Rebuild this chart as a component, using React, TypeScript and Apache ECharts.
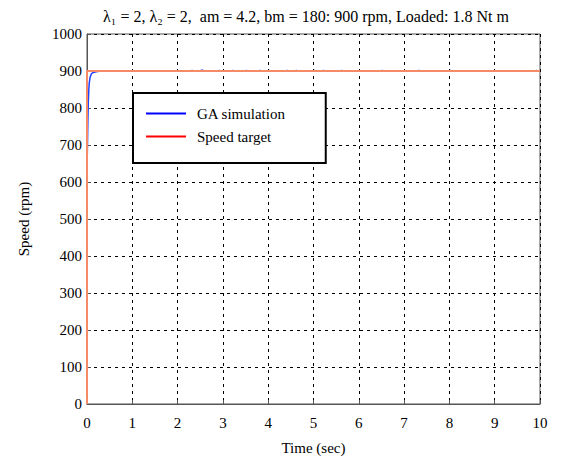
import React, { useEffect, useRef } from "react";
import * as echarts from "echarts";

const xTicks = [0, 1, 2, 3, 4, 5, 6, 7, 8, 9, 10];
const gaSimulation: [number, number][] = [
  [0, 630], [0.01, 700], [0.02, 770], [0.03, 820], [0.04, 850], [0.05, 868],
  [0.07, 884], [0.1, 893], [0.14, 896], [0.2, 898], [0.3, 900],
  [1.98, 900], [2.0, 901.5], [2.02, 900], [2.3, 900], [2.32, 901.5], [2.34, 900],
  [2.5, 900], [2.52, 902], [2.56, 902], [2.58, 900], [2.9, 900], [2.92, 901.5], [2.94, 900],
  [3.2, 900], [3.22, 901.5], [3.24, 900], [3.5, 900], [3.52, 901.5], [3.54, 900],
  [3.8, 900], [3.82, 901.5], [3.86, 900], [4.0, 900], [4.02, 901.5], [4.04, 900],
  [4.4, 900], [4.42, 901.5], [4.46, 900], [4.6, 900], [4.62, 901.5], [4.64, 900],
  [5.0, 900], [5.02, 901.5], [5.04, 900], [5.2, 900], [5.22, 901.5], [5.26, 900],
  [5.6, 900], [5.62, 901.5], [5.64, 900], [6.5, 900], [6.52, 901.5], [6.56, 900],
  [7.3, 900], [7.32, 901.5], [7.38, 900], [8.0, 900], [8.02, 901.5], [8.04, 900],
  [9.9, 900], [9.92, 901.5], [9.94, 900], [10, 900],
];
const speedTarget: [number, number][] = [[0, 0], [0, 900], [10, 900]];
const titleText = "λ\u2081 = 2, λ\u2082 = 2,  am = 4.2, bm = 180: 900 rpm, Loaded: 1.8 Nt m";

export default function App() {
  const ref = useRef<HTMLDivElement>(null);
  useEffect(() => {
    const chart = echarts.init(ref.current!, undefined, { renderer: "svg" });
    const font = "'Liberation Serif', 'Times New Roman', serif";
    chart.setOption({
      animation: false,
      textStyle: { fontFamily: font },
      title: {
        text: titleText,
        left: 301,
        top: 3,
        textAlign: "center",
        textStyle: { fontFamily: font, fontSize: 16, fontWeight: "normal", color: "#000" },
      },
      grid: {
        left: 87, right: 29, top: 34, bottom: 64,
        show: true, borderColor: "#555", borderWidth: 1, backgroundColor: "#fff",
      },
      legend: {
        orient: "vertical",
        left: 133, top: 93,
        padding: [13, 40, 19, 13],
        itemGap: 8,
        itemWidth: 40,
        itemHeight: 2,
        icon: "rect",
        borderColor: "#000",
        borderWidth: 2,
        backgroundColor: "#fff",
        textStyle: { fontFamily: font, fontSize: 15, color: "#000", padding: [0, 0, 0, 6] },
        data: ["GA simulation", "Speed target"],
      },
      xAxis: {
        type: "value",
        min: 0, max: 10, interval: 1,
        name: "Time (sec)",
        nameLocation: "middle",
        nameGap: 36,
        nameTextStyle: { fontFamily: font, fontSize: 15, color: "#000" },
        axisLine: { show: true, lineStyle: { color: "#555" } },
        axisTick: { inside: true, length: 4, lineStyle: { color: "#555" } },
        axisLabel: { fontFamily: font, fontSize: 15, color: "#000", margin: 11 },
        splitLine: { show: true, lineStyle: { color: "#000", type: [3, 4], width: 1 } },
        data: xTicks,
      },
      yAxis: {
        type: "value",
        min: 0, max: 1000, interval: 100,
        name: "Speed (rpm)",
        nameLocation: "middle",
        nameGap: 56,
        nameTextStyle: { fontFamily: font, fontSize: 15, color: "#000" },
        axisLine: { show: true, lineStyle: { color: "#555" } },
        axisTick: { inside: true, length: 4, lineStyle: { color: "#555" } },
        axisLabel: { fontFamily: font, fontSize: 15, color: "#000", margin: 5, formatter: (v: number) => String(v) },
        splitLine: { show: true, lineStyle: { color: "#000", type: [3, 4], width: 1 } },
      },
      series: [
        {
          name: "GA simulation",
          type: "line",
          data: gaSimulation,
          showSymbol: false,
          color: "#0000ff",
          lineStyle: { color: "#2040ff", width: 1.5 },
        },
        {
          name: "Speed target",
          type: "line",
          data: speedTarget,
          showSymbol: false,
          color: "#ff0000",
          lineStyle: { color: "#f58a66", width: 2 },
        },
      ],
    });
    return () => chart.dispose();
  }, []);
  return <div ref={ref} style={{ position: "absolute", left: 0, top: 0, width: 569, height: 468 }} />;
}
